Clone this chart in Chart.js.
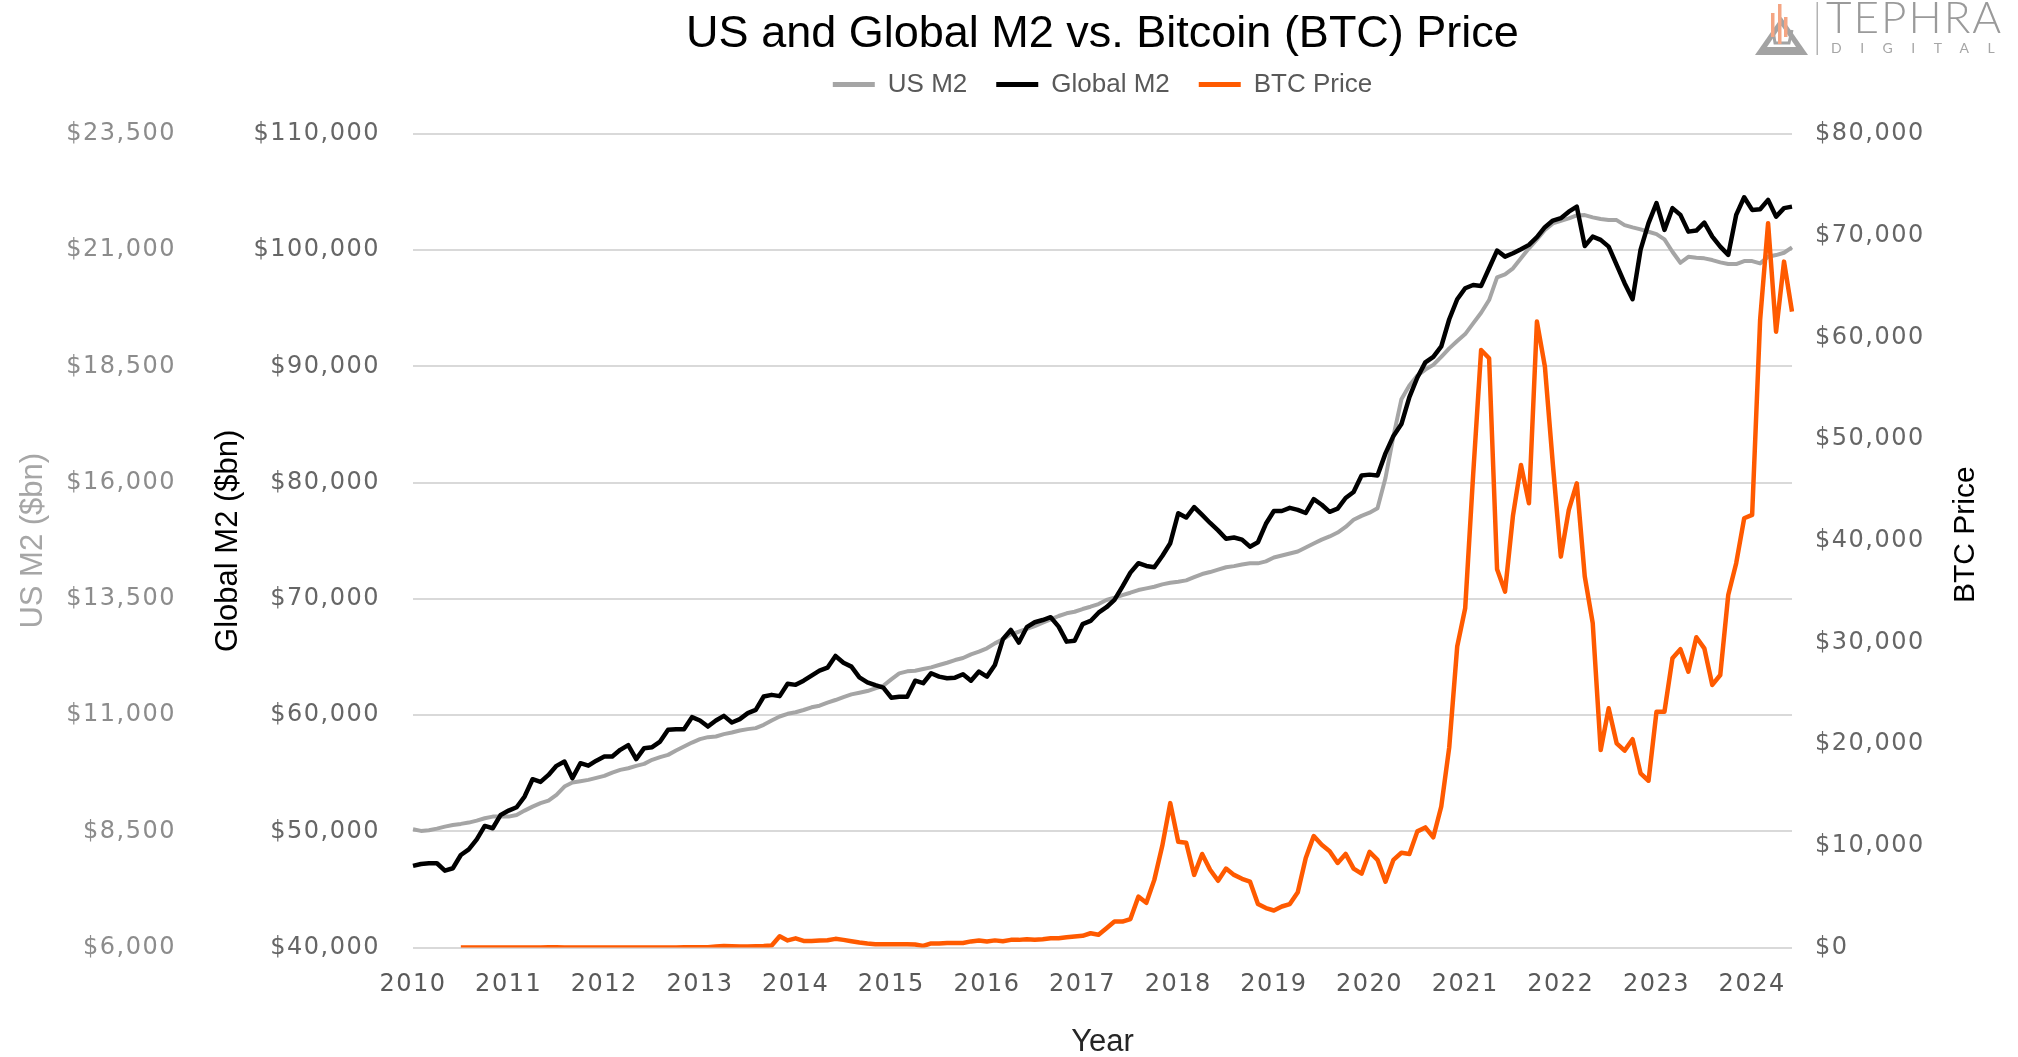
<!DOCTYPE html>
<html>
<head>
<meta charset="utf-8">
<script src="https://cdn.jsdelivr.net/npm/chart.js@4.4.1/dist/chart.umd.min.js"></script>
<style>
html,body{margin:0;padding:0;background:#ffffff;}
#wrap{width:2018px;height:1057px;}
</style>
</head>
<body>
<div id="wrap"><canvas id="c" width="2018" height="1057"></canvas></div>
<script>
// ---------- data ----------
const years = ['2010','2011','2012','2013','2014','2015','2016','2017','2018','2019','2020','2021','2022','2023','2024'];

const usTicks = [6000, 8500, 11000, 13500, 16000, 18500, 21000, 23500];
const globalTicks = [40000, 50000, 60000, 70000, 80000, 90000, 100000, 110000];
const btcTicks = [0, 10000, 20000, 30000, 40000, 50000, 60000, 70000, 80000];

// US M2 ($bn), monthly Jan 2010 - Jun 2024
const usM2 = [
  8545, 8508, 8522, 8558, 8601, 8637, 8659, 8687, 8730, 8781, 8816, 8816,
  8816, 8852, 8945, 9031, 9104, 9160, 9283, 9462, 9548, 9578, 9606, 9649,
  9692, 9763, 9821, 9857, 9907, 9950, 10037, 10094, 10144, 10236, 10323, 10409,
  10482, 10525, 10540, 10590, 10625, 10668, 10698, 10719, 10790, 10883, 10969, 11027,
  11060, 11109, 11167, 11201, 11266, 11324, 11388, 11446, 11481, 11517, 11575, 11631,
  11769, 11898, 11941, 11954, 11991, 12027, 12077, 12126, 12184, 12227, 12307, 12363,
  12436, 12543, 12629, 12737, 12793, 12857, 12915, 12987, 13060, 13131, 13189, 13223,
  13281, 13331, 13389, 13475, 13524, 13582, 13632, 13690, 13726, 13761, 13812, 13847,
  13870, 13898, 13967, 14034, 14077, 14129, 14180, 14204, 14238, 14264, 14264, 14307,
  14391, 14434, 14477, 14520, 14604, 14690, 14774, 14843, 14927, 15047, 15200, 15286,
  15353, 15450, 16100, 17000, 17794, 18091, 18304, 18433, 18534, 18705, 18889, 19046,
  19196, 19426, 19655, 19928, 20416, 20480, 20610, 20825, 21040, 21233, 21434, 21577,
  21633, 21685, 21749, 21756, 21706, 21670, 21648, 21648, 21541, 21491, 21448, 21397,
  21347, 21233, 20967, 20730, 20859, 20838, 20825, 20788, 20738, 20702, 20702, 20767,
  20767, 20717, 20859, 20896, 20945, 21061
];

// Global M2 ($bn)
const globalM2 = [
  47020, 47190, 47250, 47250, 46610, 46820, 47960, 48450, 49310, 50460, 50260, 51410,
  51780, 52070, 52990, 54480, 54250, 54850, 55630, 56000, 54570, 55860, 55650, 56080,
  56430, 56430, 57010, 57410, 56210, 57150, 57240, 57720, 58730, 58790, 58790, 59820,
  59530, 59010, 59530, 59930, 59360, 59650, 60170, 60450, 61600, 61740, 61630, 62690,
  62600, 62960, 63390, 63820, 64080, 65090, 64510, 64170, 63250, 62820, 62570, 62360,
  61500, 61580, 61580, 62960, 62740, 63600, 63310, 63170, 63220, 63510, 62960, 63740,
  63310, 64310, 66520, 67320, 66230, 67560, 67990, 68180, 68420, 67610, 66320, 66400,
  67820, 68100, 68810, 69280, 69910, 71050, 72260, 73070, 72830, 72720, 73690, 74790,
  77370, 77000, 77900, 77220, 76530, 75890, 75170, 75280, 75100, 74490, 74870, 76460,
  77560, 77560, 77830, 77660, 77390, 78580, 78100, 77490, 77760, 78680, 79190, 80620,
  80690, 80620, 82520, 84020, 85040, 87360, 89050, 90350, 90830, 91730, 94060, 95780,
  96730, 97010, 96930, 98450, 99970, 99450, 99740, 100090, 100460, 101120, 101980, 102550,
  102760, 103320, 103750, 100370, 101170, 100890, 100310, 98740, 97160, 95780, 100030, 102330,
  104050, 101750, 103620, 103040, 101600, 101690, 102380, 101170, 100310, 99600, 103040, 104560,
  103470, 103530, 104330, 102890, 103620, 103750
];

// BTC price ($), monthly; series starts Jul 2010
const btcPrice = [
  null, null, null, null, null, null, 0.07, 0.07, 0.06, 0.19, 0.21, 0.3,
  0.5, 0.9, 0.8, 3.5, 8.7, 16, 13, 8, 5, 3.2, 3, 4.7,
  5.5, 4.9, 4.9, 5, 5.2, 6.7, 9.3, 10, 12, 11, 12.5, 13.5,
  20, 33, 93, 139, 129, 97, 106, 135, 141, 200, 1100, 700,
  900, 650, 650, 700, 720, 850, 750, 620, 490, 390, 330, 330,
  330, 330, 320, 290, 150, 400, 400, 450, 450, 450, 600, 680,
  600, 700, 620, 750, 750, 820, 760, 820, 900, 900, 1000, 1080,
  1150, 1400, 1250, 1900, 2550, 2550, 2800, 5000, 4400, 6650, 10000, 14200,
  10400, 10300, 7140, 9200, 7650, 6560, 7760, 7140, 6760, 6480, 4270, 3880,
  3640, 4030, 4270, 5430, 8810, 10960, 10100, 9470, 8310, 9200, 7760, 7260,
  9400, 8620, 6480, 8620, 9320, 9200, 11420, 11810, 10840, 13870, 19700, 29600,
  33360, 46500, 58760, 57950, 37200, 35000, 42500, 47450, 43690, 61550, 57120, 47500,
  38440, 43030, 45650, 36500, 31890, 19420, 23520, 20080, 19360, 20480, 17130, 16400,
  23190, 23190, 28440, 29330, 27130, 30510, 29420, 25820, 26800, 34670, 37790, 42210,
  42540, 61710, 71230, 60560, 67450, 62530
];

// monthly category labels built from the year list
const monthLabels = [];
years.forEach(y => { for (let m = 1; m <= 12; m++) monthLabels.push(y + '-' + String(m).padStart(2, '0')); });
monthLabels.length = usM2.length;

// ---------- helpers ----------
const fmt = v => '$' + Number(v).toLocaleString('en-US');
const tickFont = { family: "'DejaVu Sans', sans-serif", size: 24 };
const labelFamily = "'Liberation Sans', Arial, sans-serif";

const extras = {
  id: 'extras',
  beforeDraw(chart) {
    ['x', 'yUS', 'yG', 'yBTC'].forEach(id => {
      const s = chart.scales[id];
      if (s && !s._lsWrapped) {
        const orig = s.drawLabels;
        s.drawLabels = function (area) {
          const c = this.ctx;
          const prev = c.letterSpacing;
          c.letterSpacing = '1.5px';
          orig.call(this, area);
          c.letterSpacing = prev || '0px';
        };
        s._lsWrapped = true;
      }
    });
  },
  afterDraw(chart) {
    const ctx = chart.ctx;
    const ca = chart.chartArea;
    // right axis title (reads bottom to top)
    ctx.save();
    ctx.font = "30px " + labelFamily;
    ctx.fillStyle = '#000000';
    ctx.textAlign = 'center';
    ctx.textBaseline = 'middle';
    ctx.translate(1966, (ca.top + ca.bottom) / 2 - 6);
    ctx.rotate(-Math.PI / 2);
    ctx.fillText('BTC Price', 0, 0);
    ctx.restore();

    // logo
    ctx.save();
    ctx.fillStyle = '#a3a3a3';
    ctx.beginPath();
    ctx.moveTo(1755, 55); ctx.lineTo(1808, 55); ctx.lineTo(1781.5, 17); ctx.closePath();
    ctx.fill();
    ctx.fillStyle = '#ffffff';
    ctx.beginPath();
    ctx.moveTo(1767, 47); ctx.lineTo(1796, 47); ctx.lineTo(1781.5, 26); ctx.closePath();
    ctx.fill();
    ctx.strokeStyle = '#a3a3a3';
    ctx.lineWidth = 3;
    ctx.beginPath();
    ctx.moveTo(1773, 30); ctx.lineTo(1775, 43); ctx.lineTo(1789, 43); ctx.lineTo(1792, 30);
    ctx.stroke();
    ctx.fillStyle = '#f4a583';
    ctx.fillRect(1771, 13, 3.5, 24);
    ctx.fillRect(1778, 4, 3.5, 40);
    ctx.fillRect(1784, 17, 3.5, 20);
    ctx.fillStyle = '#b3b3b3';
    ctx.fillRect(1816.5, 2, 1.5, 53);
    ctx.fillStyle = '#9a9a9a';
    ctx.textAlign = 'left';
    ctx.textBaseline = 'alphabetic';
    ctx.font = "300 44px Lato, 'Liberation Sans', sans-serif";
    ctx.letterSpacing = '2px';
    ctx.fillText('TEPHRA', 1826, 33);
    ctx.fillStyle = '#a6a6a6';
    ctx.font = "14px Lato, 'Liberation Sans', sans-serif";
    ctx.letterSpacing = '18.5px';
    ctx.fillText('DIGITAL', 1831, 53);
    ctx.letterSpacing = '0px';
    ctx.restore();
  }
};

new Chart(document.getElementById('c').getContext('2d'), {
  type: 'line',
  data: {
    labels: monthLabels,
    datasets: [
      { label: 'US M2', data: usM2, yAxisID: 'yUS', borderColor: '#a5a5a5', backgroundColor: '#a5a5a5', borderWidth: 4, pointRadius: 0, order: 3 },
      { label: 'Global M2', data: globalM2, yAxisID: 'yG', borderColor: '#000000', backgroundColor: '#000000', borderWidth: 4.5, pointRadius: 0, order: 2 },
      { label: 'BTC Price', data: btcPrice, yAxisID: 'yBTC', borderColor: '#ff5a00', backgroundColor: '#ff5a00', borderWidth: 4.5, pointRadius: 0, order: 1 }
    ]
  },
  options: {
    responsive: false,
    animation: false,
    devicePixelRatio: 1,
    layout: { padding: 0 },
    elements: { line: { tension: 0, borderJoinStyle: 'round' } },
    plugins: {
      title: {
        display: true, text: 'US and Global M2 vs. Bitcoin (BTC) Price', fullSize: false,
        color: '#000000', font: { family: labelFamily, size: 45, weight: 'normal', lineHeight: 0.338 },
        padding: { top: 27.4, bottom: 0 }
      },
      legend: {
        display: true, position: 'top', fullSize: false, weight: 1800,
        labels: {
          boxWidth: 42, boxHeight: 5, padding: 29, color: '#595959',
          font: { family: labelFamily, size: 26 },
          sort: (a, b) => a.datasetIndex - b.datasetIndex,
          generateLabels: chart => Chart.defaults.plugins.legend.labels.generateLabels(chart)
            .map(l => Object.assign({}, l, { lineWidth: 0, fillStyle: l.strokeStyle }))
        }
      },
      subtitle: {
        display: true, text: '', fullSize: false, weight: 1500,
        font: { size: 1, lineHeight: 1 }, padding: { top: 0, bottom: 25.4 }
      },
      tooltip: { enabled: false }
    },
    scales: {
      x: {
        type: 'category',
        grid: { display: false, drawTicks: false },
        border: { display: false },
        ticks: {
          autoSkip: false, maxRotation: 0, minRotation: 0, padding: 23, color: '#595959', font: tickFont,
          callback: (v, i) => (i % 12 === 0 ? years[i / 12] : null)
        },
        title: {
          display: true, text: 'Year', color: '#262626',
          font: { family: labelFamily, size: 31, lineHeight: 0.9 }, padding: { top: 0, bottom: 0.3 }
        },
        afterFit: s => { s.height = 109.5; }
      },
      yUS: {
        type: 'linear', position: 'left', weight: 2, min: 6000, max: 23500,
        afterBuildTicks: s => { s.ticks = usTicks.map(v => ({ value: v })); },
        grid: { display: false, drawTicks: false },
        border: { display: false },
        ticks: { padding: 14, color: '#8c8c8c', font: tickFont, callback: fmt },
        title: {
          display: true, text: 'US M2 ($bn)', color: '#a6a6a6',
          font: { family: labelFamily, size: 31, lineHeight: 1.2 }, padding: { top: 14.4, bottom: 0 }
        },
        afterFit: s => { s.width = 190; }
      },
      yG: {
        type: 'linear', position: 'left', weight: 1, min: 40000, max: 110000,
        afterBuildTicks: s => { s.ticks = globalTicks.map(v => ({ value: v })); },
        grid: { display: true, color: '#d9d9d9', lineWidth: 2, drawTicks: false },
        border: { display: false },
        ticks: { padding: 33, color: '#666666', font: tickFont, callback: fmt },
        title: {
          display: true, text: 'Global M2 ($bn)', color: '#000000',
          font: { family: labelFamily, size: 31, lineHeight: 1.2 }, padding: { top: 19.4, bottom: 0 }
        },
        afterFit: s => { s.width = 223; }
      },
      yBTC: {
        type: 'linear', position: 'right', min: 0, max: 80000,
        afterBuildTicks: s => { s.ticks = btcTicks.map(v => ({ value: v })); },
        grid: { display: false, drawTicks: false },
        border: { display: false },
        ticks: { padding: 23, color: '#666666', font: tickFont, callback: fmt },
        afterFit: s => { s.width = 226; }
      }
    }
  },
  plugins: [extras]
});
</script>
</body>
</html>
